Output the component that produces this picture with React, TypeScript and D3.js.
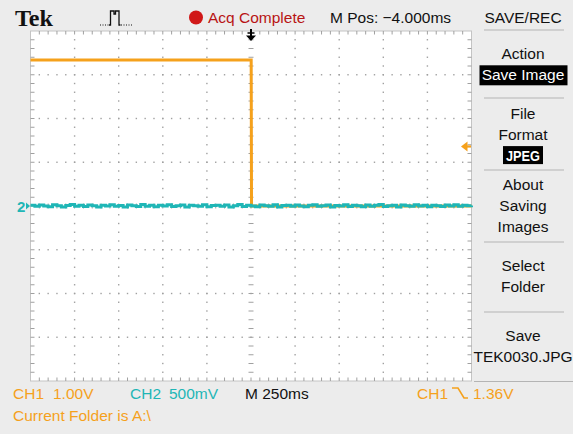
import React from "react";
import * as d3 from "d3";

// ---- data ----
const timePerDivMs = 250;
const ch1VoltsPerDiv = 1.0;
const ch2VoltsPerDiv = 0.5;
const triggerLevelV = 1.36;

// CH1 (orange) trace: time in ms relative to trigger, volts
const ch1Time = [-1250, 1, 3, 1250];
const ch1Volts = [3.34, 3.34, 0, 0];

// CH2 (cyan) trace: noise around 0 V, mV, sampled every 25 ms from -1250 ms
const ch2StartMs = -1250;
const ch2StepMs = 25;
const ch2NoiseMv = [
  10, -4, 12, 0, -8, 14, 2, -10, 6, 16, -2, 8, -6, 12, 4, -12, 10, 0, 14, -4,
  6, -10, 12, 2, -6, 16, -2, 8, -8, 10, 0, 14, -6, 4, 12, -10, 8, 2, -4, 14,
  -8, 6, 10, -2, 12, -10, 4, 16, -6, 8, 0, -8, 12, 4, -4, 14, -10, 6, 10, -2,
  12, 0, -8, 8, 14, -4, 2, 12, -10, 6, 0, 14, -6, 10, 4, -8, 12, -2, 8, 16,
  -6, 4, 10, -10, 12, 2, -4, 14, 0, 8, -8, 10, 4, -6, 12, 0, 14, -4, 8, 2, 6,
];

const topTexts = ["Acq Complete", "M Pos: \u22124.000ms", "SAVE/REC"];
const menuItems = [
  { lines: ["Action"], hl: "Save Image" },
  { lines: ["File", "Format"], hl: "JPEG" },
  { lines: ["About", "Saving", "Images"], hl: "" },
  { lines: ["Select", "Folder"], hl: "" },
  { lines: ["Save", "TEK0030.JPG"], hl: "" },
];

// ---- layout ----
const W = 573, H = 434;
const L = 30.5, R = 471.5, T = 31, B = 381;
const XDIV = 10, YDIV = 8;
const ORANGE = "#f5a11c";
const CYAN = "#1fb6b6";
const GRID = "#a0a0a0";
const BG = "#ececec";
const FONT = "'Liberation Sans', Arial, sans-serif";

export default function App() {
  const x = d3.scaleLinear().domain([-XDIV / 2 * timePerDivMs, XDIV / 2 * timePerDivMs]).range([L, R]);
  const yDiv = d3.scaleLinear().domain([-YDIV / 2, YDIV / 2]).range([B, T]);
  const dx = (R - L) / XDIV / 5;
  const dy = (B - T) / YDIV / 5;

  const line1 = d3.line<number>().x((_, i) => x(ch1Time[i])).y((v) => yDiv(v / ch1VoltsPerDiv));
  const line2 = d3
    .line<number>()
    .curve(d3.curveStepAfter)
    .x((_, i) => x(Math.min(ch2StartMs + i * ch2StepMs, 1250)))
    .y((v) => yDiv(v / 1000 / ch2VoltsPerDiv));

  const dots: JSX.Element[] = [];
  for (let i = 1; i < XDIV; i++) {
    if (i === XDIV / 2) continue;
    const gx = L + i * 5 * dx;
    for (let k = 1; k < YDIV * 5; k++) {
      dots.push(<rect key={`v${i}-${k}`} x={gx - 0.7} y={T + k * dy - 0.7} width={1.4} height={1.4} fill={GRID} />);
    }
  }
  for (let j = 1; j < YDIV; j++) {
    if (j === YDIV / 2) continue;
    const gy = T + j * 5 * dy;
    for (let k = 1; k < XDIV * 5; k++) {
      dots.push(<rect key={`h${j}-${k}`} x={L + k * dx - 0.7} y={gy - 0.7} width={1.4} height={1.4} fill={GRID} />);
    }
  }
  const ticks: JSX.Element[] = [];
  const cx = L + (XDIV / 2) * 5 * dx;
  const cy = T + (YDIV / 2) * 5 * dy;
  for (let k = 1; k < XDIV * 5; k++) {
    const tx = L + k * dx;
    ticks.push(<line key={`tt${k}`} x1={tx} x2={tx} y1={T} y2={T + 3.5} />);
    ticks.push(<line key={`tb${k}`} x1={tx} x2={tx} y1={B - 3.5} y2={B} />);
    ticks.push(<line key={`tc${k}`} x1={tx} x2={tx} y1={cy - 2.5} y2={cy + 2.5} />);
  }
  for (let k = 1; k < YDIV * 5; k++) {
    const ty = T + k * dy;
    ticks.push(<line key={`tl${k}`} x1={L} x2={L + 4} y1={ty} y2={ty} />);
    ticks.push(<line key={`tr${k}`} x1={R - 4} x2={R} y1={ty} y2={ty} />);
    ticks.push(<line key={`tv${k}`} x1={cx - 2.5} x2={cx + 2.5} y1={ty} y2={ty} />);
  }

  const trigY = yDiv(triggerLevelV / ch1VoltsPerDiv);
  const gndY = yDiv(0);

  // menu layout
  const menuX = 523;
  const menuTop = [30, 98, 170, 242, 312];
  const menuStart = [53, 113, 184, 265, 335];
  const lineGap = 21.3;
  const menu: JSX.Element[] = [];
  menuItems.forEach((m, idx) => {
    const top = menuTop[idx];
    if (idx > 0) menu.push(<line key={`sep${idx}`} x1={484} x2={564} y1={top} y2={top} stroke="#b4b4b4" strokeWidth={1.2} />);
    const startC = menuStart[idx];
    m.lines.forEach((t, li) => {
      menu.push(
        <text key={`m${idx}-${li}`} x={menuX} y={startC + li * lineGap + 5.5} textAnchor="middle" fontSize={15.5} fill="#111">{t}</text>
      );
    });
    if (m.hl) {
      const c = startC + m.lines.length * lineGap + (idx === 0 ? 0.5 : 0);
      const wBox = idx === 0 ? 88 : 40;
      menu.push(<rect key={`hb${idx}`} x={menuX - wBox / 2 + (idx === 0 ? 0.5 : 0)} y={c - 9.5} width={wBox} height={idx === 0 ? 20 : 18} fill="#000" />);
      menu.push(
        <text key={`ht${idx}`} x={menuX} y={c + 5.5} textAnchor="middle" fontSize={15.5} fill="#fff" fontWeight={idx === 1 ? "bold" : "normal"}
          textLength={idx === 1 ? 34 : undefined} lengthAdjust="spacingAndGlyphs">{m.hl}</text>
      );
    }
  });

  return (
    <div style={{ position: "fixed", left: 0, top: 0 }}>
      <svg width={W} height={H} style={{ display: "block", fontFamily: FONT }}>
        <rect x={0} y={0} width={W} height={H} fill={BG} />
        <rect x={L} y={T} width={R - L} height={B - T} fill="#fff" stroke="#c4c4c4" strokeWidth={1} />
        <g>{dots}</g>
        <g stroke={GRID} strokeWidth={1}>{ticks}</g>

        {/* traces */}
        <path d={line1(ch1Volts) || ""} fill="none" stroke={ORANGE} strokeWidth={3} strokeLinejoin="miter" />
        <path d={line2(ch2NoiseMv) || ""} fill="none" stroke={CYAN} strokeWidth={3} strokeLinejoin="miter" />

        {/* ground marker */}
        <text x={17} y={gndY + 5.5} fontSize={15} fill={CYAN} fontWeight="bold">2</text>
        <path d={`M${26},${gndY - 3.5} L${30},${gndY} L${26},${gndY + 3.5} Z`} fill={CYAN} />

        {/* trigger level marker */}
        <path d={`M${461},${trigY} L${467.5},${trigY - 5} L${467.5},${trigY + 5} Z`} fill={ORANGE} />
        <line x1={466} x2={471} y1={trigY} y2={trigY} stroke={ORANGE} strokeWidth={2.2} />

        {/* trigger position marker */}
        <g>
          <line x1={cx} x2={cx} y1={29} y2={37} stroke="#000" strokeWidth={2} />
          <line x1={cx - 3.5} x2={cx + 3.5} y1={33} y2={33} stroke="#000" strokeWidth={1.5} />
          <path d={`M${cx - 5},${35.5} L${cx + 5},${35.5} L${cx},${41} Z`} fill="#000" />
        </g>

        {/* header */}
        <text x={15} y={26} fontFamily="'Liberation Serif', 'DejaVu Serif', serif" fontWeight="bold" fontSize={23} textLength={38} lengthAdjust="spacingAndGlyphs" fill="#111">Tek</text>
        <g stroke="#111" fill="none">
          <line x1={100} x2={109} y1={25} y2={25} strokeDasharray="1,1.5" strokeWidth={1} />
          <path d="M109,25 H110.5 V11 H114 V14 H115.5 V11 H119 V25 H120.5" strokeWidth={1.3} />
          <line x1={121} x2={132} y1={25} y2={25} strokeDasharray="1,1.5" strokeWidth={1} />
        </g>
        <circle cx={196} cy={17.5} r={7} fill="#d01818" />
        <text x={208} y={23} fontSize={15.5} fill="#b81414">{topTexts[0]}</text>
        <text x={330} y={23} fontSize={15.5} fill="#111">{topTexts[1]}</text>
        <text x={menuX} y={22.5} fontSize={15.5} fill="#111" textAnchor="middle">{topTexts[2]}</text>
        <line x1={484} x2={564} y1={menuTop[0]} y2={menuTop[0]} stroke="#b4b4b4" strokeWidth={1.2} />
        {menu}
        <line x1={474} x2={573} y1={381.5} y2={381.5} stroke="#b4b4b4" strokeWidth={1.2} />

        {/* footer */}
        <text x={13} y={398.5} fontSize={15.5} fill={ORANGE}>CH1</text>
        <text x={53} y={398.5} fontSize={15.5} fill={ORANGE}>{`${ch1VoltsPerDiv.toFixed(2)}V`}</text>
        <text x={130} y={398.5} fontSize={15.5} fill={CYAN}>CH2</text>
        <text x={169} y={398.5} fontSize={15.5} fill={CYAN}>{`${ch2VoltsPerDiv * 1000}mV`}</text>
        <text x={245} y={398.5} fontSize={15.5} fill="#111">{`M ${timePerDivMs}ms`}</text>
        <text x={417} y={398.5} fontSize={15.5} fill={ORANGE}>CH1</text>
        <path d="M452,388 H458 L464,398 H468" fill="none" stroke={ORANGE} strokeWidth={1.6} />
        <text x={473} y={398.5} fontSize={15.5} fill={ORANGE}>{`${triggerLevelV.toFixed(2)}V`}</text>
        <text x={13} y={420.5} fontSize={15.5} fill={ORANGE}>{"Current Folder is A:\\"}</text>
      </svg>
    </div>
  );
}
